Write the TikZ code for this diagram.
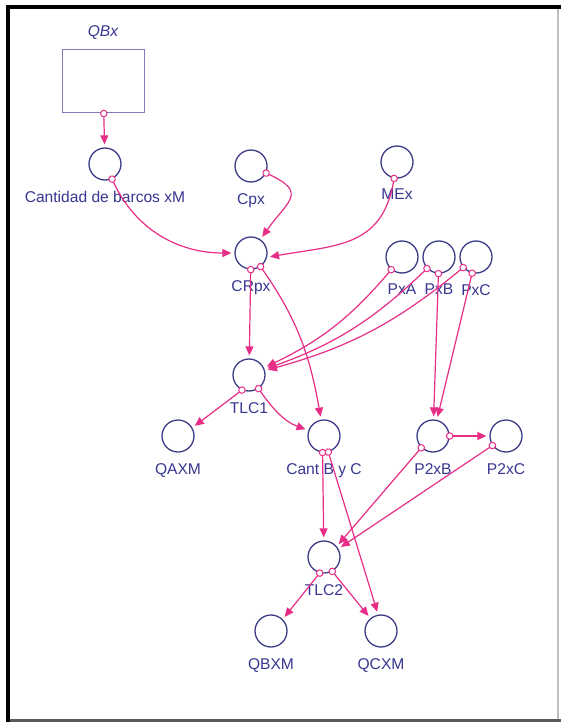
\documentclass[tikz,border=0pt]{standalone}
\usepackage{fontspec}
\setmainfont{Liberation Sans}
\usetikzlibrary{arrows.meta,positioning}
\definecolor{linkpink}{RGB}{232,45,135}
\definecolor{auxblue}{RGB}{60,60,135}
\definecolor{labelblue}{RGB}{55,55,145}
\definecolor{stockblue}{RGB}{125,125,190}
\newcommand{\lblsize}{\fontsize{15.6}{18}\selectfont}

\begin{document}
\begin{tikzpicture}[x=1pt,y=-1pt,node distance=37pt,
  aux/.style={circle,draw=auxblue,line width=1.3pt,minimum size=32pt,inner sep=0pt},
  stockbox/.style={rectangle,draw=stockblue,line width=1pt,minimum width=82pt,minimum height=63pt,inner sep=0pt},
  every label/.style={text=labelblue,font=\lblsize},
  label distance=7pt,
  link/.style={draw=linkpink,line width=1.2pt,
    {Circle[open,fill=white,length=7.5pt,width=7.5pt,line width=1pt]}-{Triangle[length=9pt,width=8pt]},
    shorten <=-3.75pt,shorten >=3pt}]
  % window frame
  \useasboundingbox (0,0) rectangle (561,722);
  \fill[white] (0,0) rectangle (561,722);
  \draw[line width=4pt] (8,722) -- (8,7) -- (561,7);
  \draw[black!25,line width=1.5pt] (558,9) -- (558,719);
  \draw[black!65,line width=3pt] (10,720.5) -- (561,720.5);

  % stock and converters
  \node[stockbox,label={[font=\lblsize\itshape]above:QBx}] (QBx) at (103,81.5) {};
  \node[aux,label=below:Cantidad de barcos xM] (CBM) at (105,164) {};
  \node[aux,label=below:Cpx] (Cpx) at (251,166) {};
  \node[aux,label=below:MEx] (MEx) at (397,162) {};
  \node[aux,label=below:CRpx] (CRpx) at (251,253) {};
  \node[aux,label=below:PxA] (PxA) at (402,257) {};
  \node[aux,label=below:PxB] (PxB) [right of=PxA] {};
  \node[aux,label=below:PxC] (PxC) [right of=PxB] {};
  \node[aux,label=below:TLC1] (TLC1) at (249,375) {};
  \node[aux,label=below:QAXM] (QAXM) at (178,436) {};
  \node[aux,label=below:Cant B y C] (CBC) at (324,436) {};
  \node[aux,label=below:P2xB] (P2xB) at (433,436) {};
  \node[aux,label=below:P2xC] (P2xC) [right of=P2xB,node distance=73pt] {};
  \node[aux,label=below:TLC2] (TLC2) at (324,557) {};
  \node[aux,label=below:QBXM] (QBXM) at (271,631) {};
  \node[aux,label=below:QCXM] (QCXM) at (381,631) {};

  % connectors
  \path (QBx) edge[link] (CBM);
  \path (CBM) edge[link,out=-65,in=180] (CRpx);
  \path (Cpx) edge[link,out=-25,in=55,looseness=1.8] (CRpx);
  \path (MEx.-100) edge[link,out=-100,in=10,looseness=1.2] (CRpx.-15);
  \path (CRpx) edge[link] (TLC1);
  \path (CRpx) edge[link,out=-55,in=100] (CBC);
  \path (PxA) edge[link,bend left=12] (TLC1);
  \path (PxB) edge[link,bend left=12] (TLC1);
  \path (PxC) edge[link,bend left=12] (TLC1);
  \path (PxB) edge[link] (P2xB);
  \path (PxC) edge[link] (P2xB);
  \path (TLC1.-115) edge[link] (QAXM.30);
  \path (TLC1) edge[link,out=-55,in=160] (CBC);
  \path (P2xB) edge[link] (P2xC);
  \path (P2xB.-135) edge[link] (TLC2.40);
  \path (P2xC.-145) edge[link] (TLC2.30);
  \path (CBC.-95) edge[link] (TLC2);
  \path (CBC.-75) edge[link] (QCXM.100);
  \path (TLC2.-105) edge[link] (QBXM.45);
  \path (TLC2.-60) edge[link] (QCXM.130);
\end{tikzpicture}
\end{document}
